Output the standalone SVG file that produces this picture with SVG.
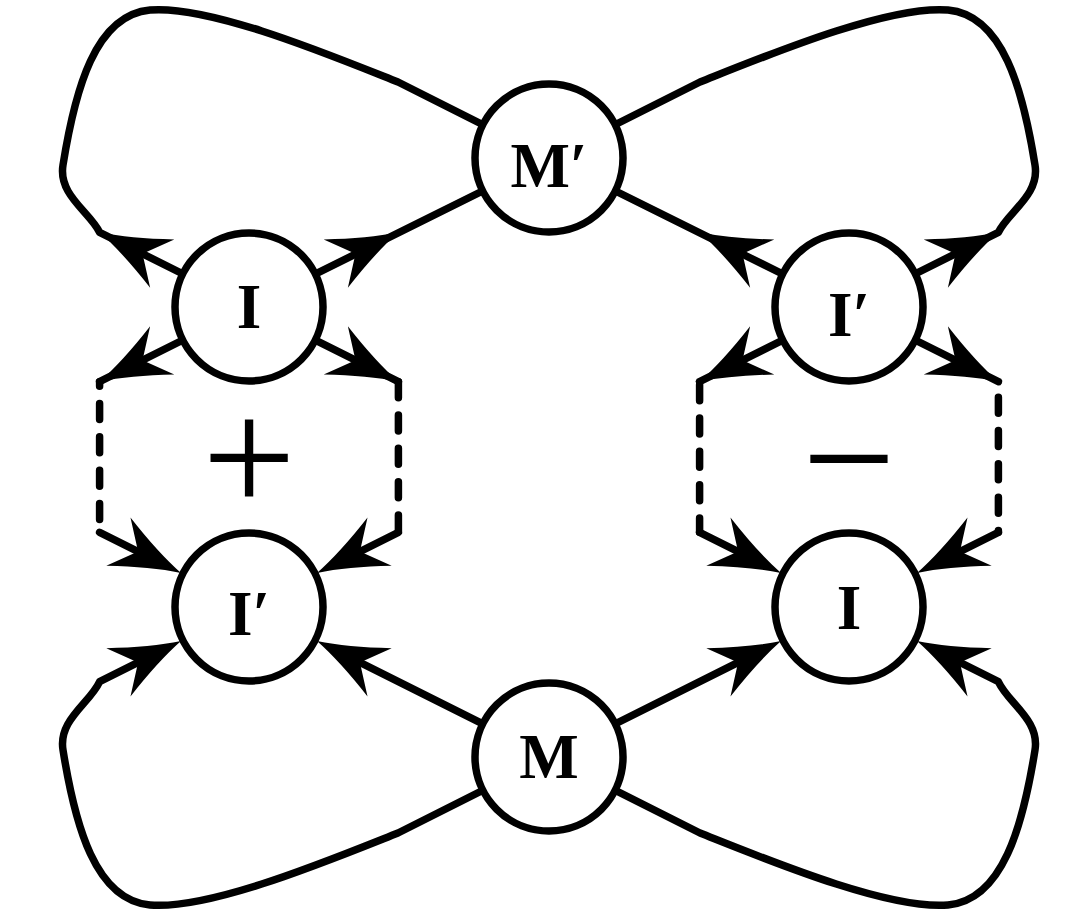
<svg xmlns="http://www.w3.org/2000/svg" xmlns:xlink="http://www.w3.org/1999/xlink" width="1091" height="916" viewBox="0 0 1091 916">
<style>
.c{fill:#fff;stroke:#000;stroke-width:7.5}
.l{fill:none;stroke:#000;stroke-width:7.5;stroke-linecap:round;stroke-linejoin:round}
.d{stroke-dasharray:16 17.33}
.t{font-family:"Liberation Serif","Times New Roman",serif;font-weight:bold;font-size:63px;text-anchor:middle;fill:#000}
.s{font-family:"Liberation Serif","Times New Roman",serif;font-size:166px;text-anchor:middle;fill:#000}
</style>
<defs>
<path id="ah" d="M0,0 Q-30,-8 -70,-27 L-48,0 L-70,27 Q-30,8 0,0 Z" fill="#000"/>
</defs>
<rect width="1091" height="916" fill="#fff"/>
<g id="connectors">
<path class="l" d="M249,307 L99.6,232.3 C90,212 58,195 63,165 C75,90 95,15 150,10 C210,5 330,55 398,82 L549,158"/>
<path class="l" d="M849,307 L998.4,232.3 C1008,212 1040,195 1035,165 C1023,90 1003,15 948,10 C888,5 768,55 700,82 L549,158"/>
<path class="l" d="M163.1,649.9 L99.6,681.7 C90,703 58,720 63,750 C75,825 95,900 150,905 C210,910 330,860 398,833 L549,757"/>
<path class="l" d="M934.9,649.9 L998.4,681.7 C1008,703 1040,720 1035,750 C1023,825 1003,900 948,905 C888,910 768,860 700,833 L549,757"/>
<path class="l" d="M249,307 L549,158"/>
<path class="l" d="M849,307 L549,158"/>
<path class="l" d="M549,757 L334.9,649.9"/>
<path class="l" d="M549,757 L763.1,649.9"/>
<path class="l" d="M249,307 L99.6,381.7"/>
<path class="l d" style="stroke-dashoffset:11.5" d="M99.6,381.7 V532.3"/>
<path class="l" d="M99.6,532.3 L163.1,564.1"/>
<path class="l" d="M249,307 L398.4,381.7"/>
<path class="l d" d="M398.4,381.7 V532.3"/>
<path class="l" d="M398.4,532.3 L334.9,564.1"/>
<path class="l" d="M849,307 L699.6,381.7"/>
<path class="l d" style="stroke-dashoffset:30.33" d="M699.6,381.7 V532.3"/>
<path class="l" d="M699.6,532.3 L763.1,564.1"/>
<path class="l" d="M849,307 L998.4,381.7"/>
<path class="l d" style="stroke-dashoffset:17.87" d="M998.4,381.7 V532.3"/>
<path class="l" d="M998.4,532.3 L934.9,564.1"/>
<use xlink:href="#ah" transform="translate(99.6,232.3) rotate(206.57)"/>
<use xlink:href="#ah" transform="translate(398.4,232.3) rotate(-26.57)"/>
<use xlink:href="#ah" transform="translate(99.6,381.7) rotate(153.43)"/>
<use xlink:href="#ah" transform="translate(398.4,381.7) rotate(26.57)"/>
<use xlink:href="#ah" transform="translate(699.6,232.3) rotate(206.57)"/>
<use xlink:href="#ah" transform="translate(998.4,232.3) rotate(-26.57)"/>
<use xlink:href="#ah" transform="translate(699.6,381.7) rotate(153.43)"/>
<use xlink:href="#ah" transform="translate(998.4,381.7) rotate(26.57)"/>
<use xlink:href="#ah" transform="translate(181,573) rotate(26.57)"/>
<use xlink:href="#ah" transform="translate(317,573) rotate(153.43)"/>
<use xlink:href="#ah" transform="translate(181,641) rotate(-26.57)"/>
<use xlink:href="#ah" transform="translate(317,641) rotate(206.57)"/>
<use xlink:href="#ah" transform="translate(781,573) rotate(26.57)"/>
<use xlink:href="#ah" transform="translate(917,573) rotate(153.43)"/>
<use xlink:href="#ah" transform="translate(781,641) rotate(-26.57)"/>
<use xlink:href="#ah" transform="translate(917,641) rotate(206.57)"/>
</g>
<g id="node-Mprime"><circle class="c" cx="549" cy="158" r="74"/><text class="t" x="549" y="187">M′</text></g>
<g id="node-I-top"><circle class="c" cx="249" cy="307" r="74"/><text class="t" x="249" y="328">I</text></g>
<g id="node-Iprime-top"><circle class="c" cx="849" cy="307" r="74"/><text class="t" x="849" y="336">I′</text></g>
<g id="node-Iprime-bottom"><circle class="c" cx="249" cy="607" r="74"/><text class="t" x="249" y="635">I′</text></g>
<g id="node-I-bottom"><circle class="c" cx="849" cy="607" r="74"/><text class="t" x="849" y="629">I</text></g>
<g id="node-M"><circle class="c" cx="549" cy="757" r="74"/><text class="t" x="549" y="778">M</text></g>
<g id="signs">
<text class="s" x="249" y="513">+</text>
<text class="s" x="849" y="514">−</text>
</g>
</svg>
